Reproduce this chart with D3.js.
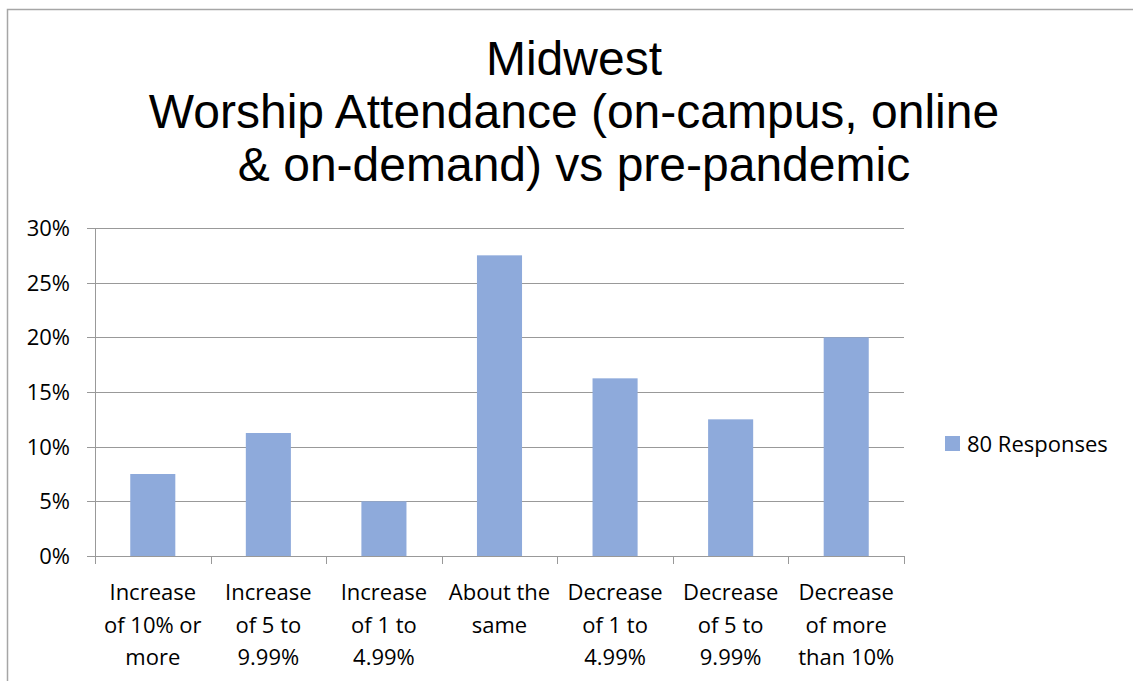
<!DOCTYPE html>
<html>
<head>
<meta charset="utf-8">
<script src="https://cdn.jsdelivr.net/npm/d3@7"></script>
<style>
  body { margin: 0; background: #fff; }
  text { font-family: "Open Sans", Lato, sans-serif; fill: #000; }
  .title { font-family: "Liberation Sans", Arial, sans-serif; }
</style>
</head>
<body>
<svg width="1133" height="681"></svg>
<script>
var categories = [
  ["Increase", "of 10% or", "more"],
  ["Increase", "of 5 to", "9.99%"],
  ["Increase", "of 1 to", "4.99%"],
  ["About the", "same"],
  ["Decrease", "of 1 to", "4.99%"],
  ["Decrease", "of 5 to", "9.99%"],
  ["Decrease", "of more", "than 10%"]
];
var values = [0.075, 0.1125, 0.05, 0.275, 0.1625, 0.125, 0.20];
var yTicks = [0, 0.05, 0.10, 0.15, 0.20, 0.25, 0.30];
var titleLines = ["Midwest", "Worship Attendance (on-campus, online", "& on-demand) vs pre-pandemic"];
var seriesName = "80 Responses";

var margin = {top: 228, left: 95},
    width = 809,
    height = 328;

var svg = d3.select("svg");

// chart frame
svg.append("rect")
    .attr("x", 7.5).attr("y", 9.5)
    .attr("width", 1140).attr("height", 700)
    .style("fill", "none")
    .style("stroke", "#a6a6a6")
    .style("stroke-width", 1.5);

// title
svg.append("text")
    .attr("class", "title")
    .attr("y", 75)
    .style("text-anchor", "middle")
    .style("font-size", "48px")
    .selectAll("tspan")
    .data(titleLines)
    .enter().append("tspan")
    .attr("x", 574)
    .attr("dy", function(d, i) { return i == 0 ? 0 : 53; })
    .text(function(d) { return d; });

var g = svg.append("g")
    .attr("transform", "translate(" + margin.left + "," + margin.top + ")");

var x = d3.scaleBand().domain(d3.range(categories.length)).range([0, width]).paddingInner(0.61).paddingOuter(0.305);
var xb = d3.scaleBand().domain(d3.range(categories.length)).range([0, width]);
var y = d3.scaleLinear().domain([0, 0.30]).range([height, 0]);

// gridlines
g.selectAll(".grid")
    .data(yTicks)
    .enter().append("line")
    .attr("x1", -8).attr("x2", width)
    .attr("y1", function(d) { return Math.round(y(d)) + 0.5; })
    .attr("y2", function(d) { return Math.round(y(d)) + 0.5; })
    .style("stroke", "#999")
    .style("stroke-width", 1);

// y axis line
g.append("line")
    .attr("x1", 0.5).attr("x2", 0.5)
    .attr("y1", 0).attr("y2", height)
    .style("stroke", "#999");

// y tick labels
g.selectAll(".ylab")
    .data(yTicks)
    .enter().append("text")
    .attr("x", -25)
    .attr("y", function(d) { return y(d); })
    .attr("dy", ".36em")
    .style("text-anchor", "end")
    .style("font-size", "22px")
    .text(d3.format(".0%"));

// bars
g.selectAll(".bar")
    .data(values)
    .enter().append("rect")
    .attr("class", "bar")
    .attr("x", function(d, i) { return x(i); })
    .attr("width", x.bandwidth())
    .attr("y", function(d) { return y(d); })
    .attr("height", function(d) { return height - y(d); })
    .style("fill", "#8eaadb");

// x category ticks
g.selectAll(".xtick")
    .data(d3.range(categories.length + 1))
    .enter().append("line")
    .attr("x1", function(i) { return Math.round(i * xb.bandwidth()) + 0.5; })
    .attr("x2", function(i) { return Math.round(i * xb.bandwidth()) + 0.5; })
    .attr("y1", height).attr("y2", height + 8)
    .style("stroke", "#999");

// x labels
g.selectAll(".xlab")
    .data(categories)
    .enter().append("text")
    .attr("y", height + 44)
    .style("text-anchor", "middle")
    .style("font-size", "22px")
    .each(function(d, i) {
        d3.select(this).selectAll("tspan")
            .data(d)
            .enter().append("tspan")
            .attr("x", xb(i) + xb.bandwidth() / 2)
            .attr("dy", function(t, j) { return j == 0 ? 0 : 32.5; })
            .text(function(t) { return t; });
    });

// legend
svg.append("rect")
    .attr("x", 945).attr("y", 436)
    .attr("width", 15).attr("height", 15)
    .style("fill", "#8eaadb");
svg.append("text")
    .attr("x", 967).attr("y", 452)
    .style("font-size", "22px")
    .text(seriesName);
</script>
</body>
</html>
